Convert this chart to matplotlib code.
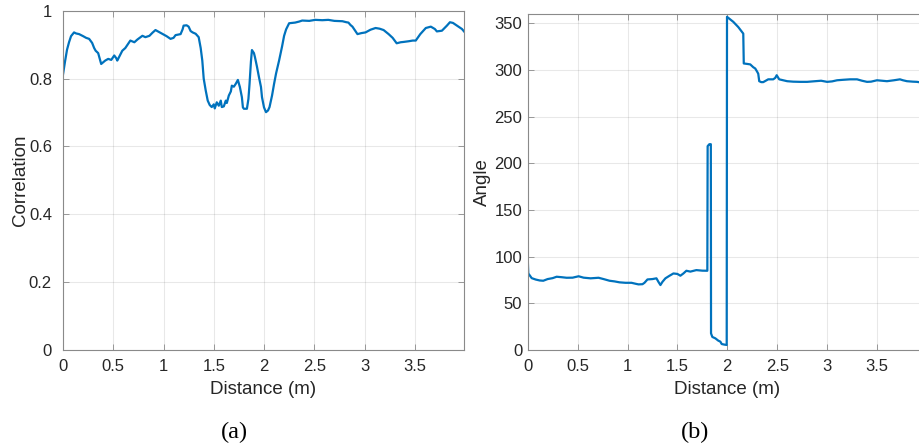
import matplotlib
matplotlib.use("Agg")
import matplotlib.pyplot as plt
import numpy as np

# ---- data ----
corr_x = [0.00, 0.02, 0.04, 0.06, 0.08, 0.11, 0.13, 0.16, 0.20, 0.23, 0.26, 0.29, 0.31, 0.325, 0.35,
          0.38, 0.40, 0.42, 0.45, 0.48, 0.51, 0.53, 0.54, 0.57, 0.59, 0.62, 0.65, 0.67, 0.71, 0.74,
          0.79, 0.82, 0.86, 0.89, 0.92, 0.95, 0.99, 1.03, 1.07, 1.10, 1.12, 1.17, 1.19, 1.20, 1.23,
          1.25, 1.27, 1.29, 1.32, 1.35, 1.37, 1.386, 1.40, 1.42, 1.44, 1.46, 1.48, 1.50, 1.51, 1.53,
          1.55, 1.57, 1.58, 1.60, 1.62, 1.63, 1.65, 1.67, 1.68, 1.70, 1.72, 1.74, 1.76, 1.78, 1.79,
          1.80, 1.83, 1.845, 1.856, 1.87, 1.88, 1.90, 1.91, 1.93, 1.95, 1.97, 1.98, 2.00, 2.02, 2.04,
          2.055, 2.08, 2.10, 2.12, 2.15, 2.18, 2.20, 2.22, 2.25, 2.31, 2.35, 2.38, 2.45, 2.51, 2.58,
          2.64, 2.70, 2.78, 2.82, 2.84, 2.86, 2.88, 2.91, 2.93, 2.97, 3.01, 3.06, 3.11, 3.15, 3.19,
          3.24, 3.28, 3.32, 3.36, 3.39, 3.44, 3.48, 3.51, 3.555, 3.61, 3.66, 3.70, 3.72, 3.77, 3.82,
          3.85, 3.88, 3.92, 3.97, 3.99]
corr_y = [0.812, 0.850, 0.885, 0.907, 0.925, 0.936, 0.933, 0.931, 0.925, 0.920, 0.917, 0.905, 0.890, 0.882, 0.875,
          0.843, 0.848, 0.853, 0.858, 0.855, 0.868, 0.860, 0.853, 0.870, 0.882, 0.890, 0.903, 0.912, 0.907, 0.915,
          0.926, 0.922, 0.926, 0.935, 0.943, 0.938, 0.931, 0.925, 0.917, 0.920, 0.928, 0.931, 0.945, 0.956, 0.957,
          0.953, 0.940, 0.936, 0.932, 0.922, 0.890, 0.853, 0.800, 0.765, 0.735, 0.722, 0.716, 0.724, 0.712, 0.730,
          0.720, 0.735, 0.716, 0.718, 0.735, 0.728, 0.750, 0.762, 0.779, 0.776, 0.785, 0.796, 0.775, 0.745, 0.715,
          0.711, 0.711, 0.740, 0.784, 0.850, 0.884, 0.875, 0.863, 0.835, 0.804, 0.775, 0.745, 0.715, 0.701, 0.706,
          0.716, 0.750, 0.784, 0.815, 0.853, 0.895, 0.926, 0.945, 0.963, 0.965, 0.968, 0.971, 0.970, 0.973, 0.972,
          0.973, 0.970, 0.969, 0.966, 0.965, 0.958, 0.953, 0.940, 0.931, 0.934, 0.936, 0.944, 0.949, 0.947, 0.943,
          0.931, 0.920, 0.904, 0.907, 0.908, 0.910, 0.912, 0.912, 0.931, 0.949, 0.953, 0.946, 0.939, 0.941, 0.956,
          0.966, 0.964, 0.956, 0.946, 0.939]

angle_x = [0.000, 0.003, 0.006, 0.02, 0.04, 0.08, 0.12, 0.156, 0.20, 0.25, 0.29, 0.34, 0.39, 0.45, 0.51,
           0.56, 0.63, 0.71, 0.76, 0.82, 0.87, 0.92, 0.98, 1.04, 1.08, 1.11, 1.15, 1.17, 1.20, 1.25,
           1.29, 1.31, 1.33, 1.35, 1.38, 1.42, 1.46, 1.50, 1.53, 1.56, 1.59, 1.63, 1.69, 1.75, 1.80,
           1.803, 1.82, 1.835, 1.837, 1.85, 1.88, 1.91, 1.93, 1.944, 1.97, 1.994, 1.997, 2.02, 2.06,
           2.11, 2.16, 2.165, 2.20, 2.23, 2.26, 2.28, 2.30, 2.31, 2.32, 2.34, 2.36, 2.41, 2.46, 2.48,
           2.495, 2.52, 2.56, 2.60, 2.66, 2.73, 2.80, 2.88, 2.94, 3.00, 3.05, 3.10, 3.16, 3.23, 3.30,
           3.35, 3.40, 3.44, 3.50, 3.55, 3.60, 3.67, 3.73, 3.76, 3.80, 3.86, 3.90, 3.95, 3.99]
angle_y = [100, 90, 82, 80, 77, 75.5, 74.5, 74.2, 76, 77, 78.5, 78, 77.4, 77.5, 79,
           77.5, 76.8, 77.4, 76, 74.2, 73.5, 72.5, 72, 72, 71, 70.3, 70.5, 72, 75.6, 76,
           76.8, 73, 69.6, 73, 76.8, 79.5, 82, 81.5, 79.6, 82, 84.9, 84, 85.6, 85, 84.9,
           218.4, 220.5, 220.5, 17.8, 14, 12.5, 10, 9, 6.4, 5.8, 5.4, 357, 355, 351.6,
           346, 339, 307, 306.5, 306, 303, 301.6, 298, 296, 288, 287, 287, 290, 290, 291.5,
           294.4, 290, 289, 288, 287.5, 287.3, 287.3, 288, 288.5, 287.3, 287.8, 289, 289.5, 290, 290,
           288.5, 287.3, 287.5, 289, 288.5, 288, 289, 290, 289, 288, 287.5, 287.3, 286.5, 286]

corr_yticks = [0, 0.2, 0.4, 0.6, 0.8, 1]
corr_yticklabels = ["0", "0.2", "0.4", "0.6", "0.8", "1"]
angle_yticks = [0, 50, 100, 150, 200, 250, 300, 350]
x_ticks = [0, 0.5, 1, 1.5, 2, 2.5, 3, 3.5]
x_ticklabels = ["0", "0.5", "1", "1.5", "2", "2.5", "3", "3.5"]

# ---- style ----
plt.rcParams['font.family'] = ['Liberation Sans', 'DejaVu Sans']
LINE = '#0072BD'
TXT = '#262626'

fig = plt.figure(figsize=(9.19, 4.46), dpi=100)
W, H = 919, 446

def px_axes(l, t, r, b):
    return fig.add_axes([l / W, 1 - b / H, (r - l) / W, (b - t) / H])

ax1 = px_axes(63, 10.7, 464, 350)
ax2 = px_axes(527.7, 14, 527.7 + 3.99 * 99.8, 350)

for ax in (ax1, ax2):
    ax.grid(True, color='#000000', alpha=0.09, linewidth=0.8)
    ax.set_axisbelow(True)
    for s in ax.spines.values():
        s.set_color('#8a8a8a')
        s.set_linewidth(0.8)
    ax.tick_params(direction='in', top=True, right=True, length=4, width=0.6,
                   color='#8a8a8a', labelsize=12, labelcolor=TXT)
    ax.tick_params(axis='x', pad=6.5)
    ax.set_xticks(x_ticks)
    ax.set_xticklabels(x_ticklabels)
    ax.set_xlabel('Distance (m)', fontsize=13.5, color=TXT)

ax1.tick_params(axis='y', pad=8)
ax2.tick_params(axis='y', pad=4)

ax1.plot(corr_x, corr_y, color=LINE, linewidth=1.6)
ax1.set_xlim(0, 3.99)
ax1.set_ylim(0, 1)
ax1.set_yticks(corr_yticks)
ax1.set_yticklabels(corr_yticklabels)
ax1.set_ylabel('Correlation', fontsize=13.5, color=TXT)
ax1.yaxis.set_label_coords((29 - 63) / 401, 0.5)
ax1.xaxis.set_label_coords(0.5, (350 - 381) / 339.3)

ax2.plot(angle_x, angle_y, color=LINE, linewidth=1.6)
ax2.set_xlim(0, 3.99)
ax2.set_ylim(0, 360)
ax2.set_yticks(angle_yticks)
ax2.set_ylabel('Angle', fontsize=13.5, color=TXT)
ax2.yaxis.set_label_coords((491 - 527.7) / (3.99 * 99.8), 0.5)
ax2.xaxis.set_label_coords((727.3 - 527.7) / (3.99 * 99.8), (350 - 381) / 336)

fig.text(234 / W, 1 - 432 / H, '(a)', ha='center', va='center',
         fontsize=17.5, family=['Liberation Serif', 'DejaVu Serif'], color='black')
fig.text(695 / W, 1 - 432 / H, '(b)', ha='center', va='center',
         fontsize=17.5, family=['Liberation Serif', 'DejaVu Serif'], color='black')

fig.savefig('out.png', dpi=100)
